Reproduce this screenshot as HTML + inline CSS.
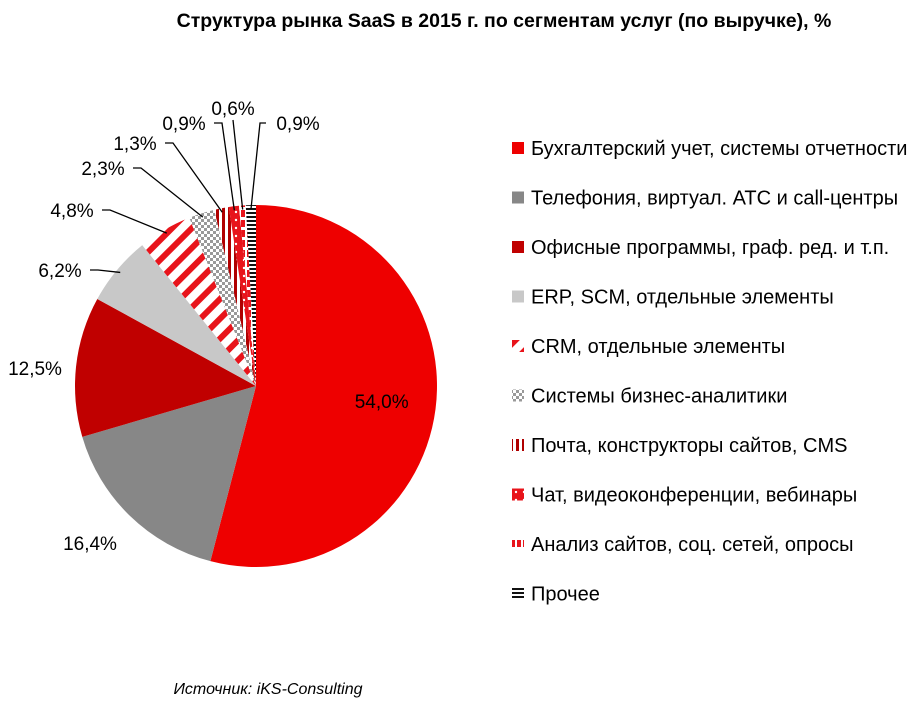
<!DOCTYPE html>
<html><head><meta charset="utf-8"><style>
body{margin:0;background:#fff;font-family:"Liberation Sans",sans-serif;}
svg text{font-family:"Liberation Sans",sans-serif;}
</style></head><body>
<svg width="916" height="712" viewBox="0 0 916 712">
<defs>
<pattern id="pCrm" width="14" height="14" patternUnits="userSpaceOnUse" patternTransform="rotate(45)"><rect width="14" height="14" fill="#fff"/><rect width="6" height="14" fill="#e8141b"/></pattern>
<pattern id="pBi" width="6" height="6" patternUnits="userSpaceOnUse"><rect width="6" height="6" fill="#fff"/><rect width="3" height="3" fill="#999"/><rect x="3" y="3" width="3" height="3" fill="#999"/></pattern>
<pattern id="pMail" width="6" height="6" patternUnits="userSpaceOnUse"><rect width="6" height="6" fill="#fff"/><rect width="3" height="6" fill="#b00000"/></pattern>
<pattern id="pChat" width="8" height="8" patternUnits="userSpaceOnUse"><rect width="8" height="8" fill="#e8141b"/><circle cx="4" cy="4" r="1.2" fill="#fff"/></pattern>
<pattern id="pAn" width="6" height="10" patternUnits="userSpaceOnUse"><rect width="6" height="10" fill="#fff"/><rect x="1" width="4" height="7" fill="#e8141b"/></pattern>
<pattern id="pOther" width="4" height="4" patternUnits="userSpaceOnUse"><rect width="4" height="4" fill="#fff"/><rect width="4" height="2" fill="#111"/></pattern>
</defs>
<text x="504" y="27" text-anchor="middle" font-size="19.5" font-weight="bold">Структура рынка SaaS в 2015 г. по сегментам услуг (по выручке), %</text>
<g id="slices"></g>
<g id="leaders" stroke="#000" stroke-width="1.3" fill="none"></g>
<g id="labels" font-size="19"></g>
<g id="legend" font-size="20"></g>
<text x="268" y="694" text-anchor="middle" font-size="16" font-style="italic">Источник: iKS-Consulting</text>
</svg>
<script>
const categories=["Бухгалтерский учет, системы отчетности","Телефония, виртуал. АТС и call-центры","Офисные программы, граф. ред. и т.п.","ERP, SCM, отдельные элементы","CRM, отдельные элементы","Системы бизнес-аналитики","Почта, конструкторы сайтов, CMS","Чат, видеоконференции, вебинары","Анализ сайтов, соц. сетей, опросы","Прочее"];
const values=[54.0,16.4,12.5,6.2,4.8,2.3,1.3,0.9,0.6,0.9];
const valueLabels=["54,0%","16,4%","12,5%","6,2%","4,8%","2,3%","1,3%","0,9%","0,6%","0,9%"];
const fills=["#ee0000","#878787","#c00000","#c8c8c8","url(#pCrm)","url(#pBi)","url(#pMail)","url(#pChat)","url(#pAn)","url(#pOther)"];
const NS="http://www.w3.org/2000/svg";
const cx=256,cy=386,r=181;
const total=values.reduce((a,b)=>a+b,0);
function pt(a,rr){return [cx+rr*Math.sin(a),cy-rr*Math.cos(a)];}
const gS=document.getElementById('slices'),gL=document.getElementById('leaders'),gT=document.getElementById('labels'),gG=document.getElementById('legend');
const outPos=[null,[90,550],[35,375],[60,277],[72,217],[103,175],[135,150],[184,130],[233,115],[298,130]];
let acc=0;
values.forEach((v,i)=>{
  const a0=acc/total*2*Math.PI; acc+=v; const a1=acc/total*2*Math.PI;
  const [x0,y0]=pt(a0,r),[x1,y1]=pt(a1,r);
  const p=document.createElementNS(NS,'path');
  p.setAttribute('d',`M${cx},${cy}L${x0},${y0}A${r},${r} 0 ${a1-a0>Math.PI?1:0} 1 ${x1},${y1}Z`);
  p.setAttribute('fill',fills[i]);
  
  
  gS.appendChild(p);
  const am=(a0+a1)/2;
  const t=document.createElementNS(NS,'text');
  
  
  t.textContent=valueLabels[i];
  if(i===0){const [lx,ly]=pt(am,r*0.7);t.setAttribute('x',lx);t.setAttribute('y',ly+6);t.setAttribute('text-anchor','middle');}
  else{
    const [lx,ly]=outPos[i];t.setAttribute('x',lx);t.setAttribute('y',ly);t.setAttribute('text-anchor','middle');
    if(i>=3){
      const [ex,ey]=pt(am,r-4);
      let pts;
      if(i===8){pts=`${lx},${ly+5} ${ex},${ey}`;}
      else{
        const sx=i===9?lx-32:lx+30, sy=ly-7;
        pts=`${sx},${sy} ${sx+(i===9?-6:8)},${sy} ${ex},${ey}`;
      }
      const l=document.createElementNS(NS,'polyline');
      l.setAttribute('points',pts);
      
      
      gL.appendChild(l);
    }
  }
  gT.appendChild(t);
  const ly=148+i*49.5;
  const m=document.createElementNS(NS,'rect');
  m.setAttribute('x',512);m.setAttribute('y',ly-6);m.setAttribute('width',12);m.setAttribute('height',12);
  m.setAttribute('fill',fills[i]);
  
  
  gG.appendChild(m);
  const lt=document.createElementNS(NS,'text');
  lt.setAttribute('x',531);lt.setAttribute('y',ly+7);
  lt.textContent=categories[i];
  
  
  gG.appendChild(lt);
});
</script>
</body></html>
